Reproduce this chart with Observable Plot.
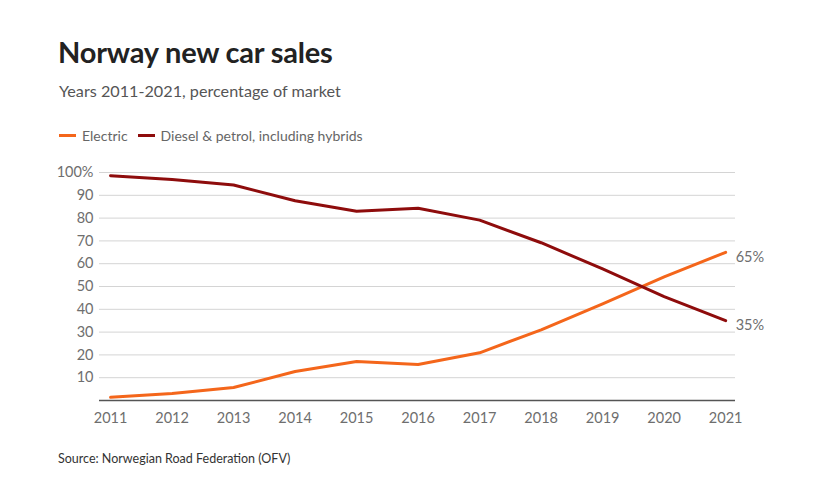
<!DOCTYPE html>
<html>
<head>
<meta charset="utf-8">
<script src="https://cdn.jsdelivr.net/npm/d3@7"></script>
<script src="https://cdn.jsdelivr.net/npm/@observablehq/plot@0.6"></script>
<style>
  html, body { margin: 0; padding: 0; background: #fff; }
  body { width: 840px; height: 482px; position: relative; overflow: hidden; font-family: Lato, "Open Sans", sans-serif; }
  .title { position: absolute; left: 58px; top: 34px; font-size: 29px; font-weight: 700; color: #222; letter-spacing: -0.2px; }
  .subtitle { position: absolute; left: 59px; top: 81px; font-size: 16.2px; color: #555; }
  .legend { position: absolute; left: 59px; top: 127px; font-size: 14px; color: #666; display: flex; align-items: center; }
  .legend .item { display: flex; align-items: center; margin-right: 10px; }
  .legend .sw { width: 17px; height: 3px; margin-right: 6px; }
  .source { position: absolute; left: 58px; top: 451px; font-size: 12.5px; color: #333; }
  #chart { position: absolute; left: 0; top: 150px; }
</style>
</head>
<body>
<div class="title">Norway new car sales</div>
<div class="subtitle">Years 2011-2021, percentage of market</div>
<div class="legend" id="legend"></div>
<div id="chart"></div>
<div class="source">Source: Norwegian Road Federation (OFV)</div>
<script>
const years = [2011, 2012, 2013, 2014, 2015, 2016, 2017, 2018, 2019, 2020, 2021];
const electric = [1.4, 3.1, 5.7, 12.7, 17.1, 15.8, 20.9, 31.0, 42.4, 54.2, 65];
const fossil = [98.6, 96.9, 94.5, 87.6, 83.0, 84.3, 79.1, 69.2, 57.7, 45.6, 35];
const seriesNames = ["Electric", "Diesel & petrol, including hybrids"];
const seriesColors = ["#f4661b", "#8e0c0c"];
const yTicks = [10, 20, 30, 40, 50, 60, 70, 80, 90, 100];

const rows = [];
years.forEach((yr, i) => {
  rows.push({ year: yr, value: electric[i], series: seriesNames[0] });
  rows.push({ year: yr, value: fossil[i], series: seriesNames[1] });
});
const last = rows.filter(d => d.year === years[years.length - 1]);

// legend
const legend = document.getElementById("legend");
seriesNames.forEach((name, i) => {
  const item = document.createElement("div");
  item.className = "item";
  item.innerHTML = `<span class="sw" style="background:${seriesColors[i]}"></span><span>${name}</span>`;
  legend.appendChild(item);
});

const chart = Plot.plot({
  width: 840,
  height: 280,
  marginTop: 22,
  marginBottom: 30,
  marginLeft: 99,
  marginRight: 105,
  style: { fontFamily: "Lato, 'Open Sans', sans-serif", fontSize: "14.5px", color: "#6e6e6e", background: "transparent" },
  x: { domain: [2010.82, 2021.16], ticks: years, tickFormat: d => String(d), tickSize: 0, tickPadding: 12, label: null },
  y: { domain: [0, 100], ticks: yTicks, tickFormat: d => d === 100 ? "100%" : String(d), tickSize: 0, tickPadding: 6, label: null },
  color: { domain: seriesNames, range: seriesColors },
  marks: [
    Plot.gridY(yTicks, { stroke: "#d4d4d4", strokeOpacity: 1, strokeWidth: 1 }),
    Plot.ruleY([0], { stroke: "#555", strokeWidth: 1.5 }),
    Plot.line(rows, { x: "year", y: "value", z: "series", stroke: "series", strokeWidth: 3, curve: "linear" }),
    Plot.text(last, { x: "year", y: "value", text: d => `${Math.round(d.value)}%`, textAnchor: "start", dx: 10, dy: 5, fill: "#6e6e6e", fontSize: 14.5 })
  ]
});
document.getElementById("chart").appendChild(chart);
</script>
</body>
</html>
